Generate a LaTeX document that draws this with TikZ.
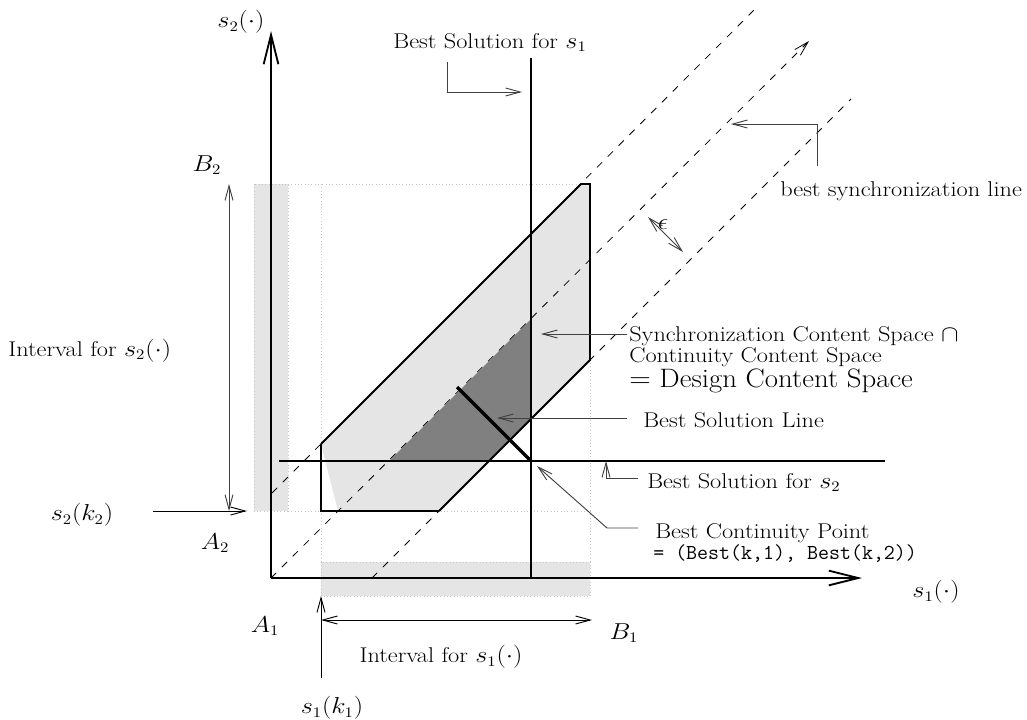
\documentclass[tikz,border=0pt]{standalone}
\usetikzlibrary{arrows.meta}
\begin{document}
\begin{tikzpicture}[x=0.75pt,y=-0.75pt,
  every node/.style={inner sep=0pt, font=\fontsize{16}{17}\selectfont, xscale=1.14, transform shape},
  bigtext/.style={font=\fontsize{20}{22}\selectfont, xscale=1.08/1.14},
  tttext/.style={font=\fontsize{16}{17}\ttfamily, xscale=1/1.14},
  ann/.style={draw=black!75, line width=0.7pt},
  annarr/.style={ann, -{Straight Barb[length=11pt,width=6pt]}},
  annboth/.style={ann, {Straight Barb[length=11pt,width=6pt]}-{Straight Barb[length=11pt,width=6pt]}},
  axisline/.style={line width=1.4pt, -{Straight Barb[length=22pt,width=11pt]}},
  syncline/.style={line width=0.6pt, dash pattern=on 5.5pt off 6pt},
  band/.style={fill=gray!20, draw=gray!45, dotted, line width=0.5pt},
  guide/.style={draw=gray!45, dotted, line width=0.5pt},
  frameline/.style={line width=1.4pt},
]
\useasboundingbox (0,0) rectangle (1027,719);

% ---- coordinates ----
\coordinate (O) at (271,578);
\coordinate (Ytip) at (271,31);
\coordinate (Xtip) at (862,578);
% light polygon
\coordinate (P1) at (321,444);
\coordinate (P2) at (581,184);
\coordinate (P3) at (590,184);
\coordinate (P4) at (590,360);
\coordinate (P5) at (439,511);
\coordinate (P6) at (321,511);
\coordinate (P7) at (338,511);
% dark polygon
\coordinate (D1) at (389,461);
\coordinate (D2) at (531,319);
\coordinate (D3) at (531,419);
\coordinate (D4) at (489,461);
% dashed sync lines
\coordinate (L1a) at (272,493);
\coordinate (L1b) at (757,7);
\coordinate (L2b) at (809,41);
\coordinate (L3a) at (372,578);
\coordinate (L3b) at (851,99);
% best lines
\coordinate (V1) at (531,58);
\coordinate (V2) at (531,578);
\coordinate (H1) at (279,461);
\coordinate (H2) at (885,461);
\coordinate (BCP) at (531,461);
\coordinate (BSLa) at (457,387);

% ---- bands and guides ----
\path[band] (254,184) rectangle (288,511);
\path[band] (321,562) rectangle (590,596);
\draw[guide] (321,184) rectangle (590,511);
\draw[guide] (288,184) -- (321,184);
\draw[guide] (288,511) -- (321,511);
\draw[guide] (321,511) -- (321,562);
\draw[guide] (590,511) -- (590,562);

% ---- light region ----
\fill[gray!20] (P1) -- (P2) -- (P3) -- (P4) -- (P5) -- (P7) -- cycle;

% ---- sync lines ----
\draw[syncline] (L1a) -- (L1b);
\draw[syncline, -{Straight Barb[length=11pt,width=6pt]}] (O) -- (L2b);
\draw[syncline] (L3a) -- (L3b);

% ---- dark region ----
\fill[gray] (D1) -- (D2) -- (D3) -- (D4) -- cycle;

% ---- outlines ----
\draw[frameline] (P1) -- (P6) -- (P5);
\draw[frameline] (P1) -- (P2) -- (P3) -- (P4) -- (P5);
\draw[frameline] (V1) -- (V2);
\draw[frameline] (H1) -- (H2);
\draw[line width=2.6pt] (BSLa) -- (BCP);

% ---- axes ----
\draw[axisline] (O) -- (Ytip);
\draw[axisline] (O) -- (Xtip);

% ---- labels ----
\node (ys) at (241,22) {$s_2(\cdot)$};
\node (xs) at (936,592) {$s_1(\cdot)$};
\node[anchor=base] (bs1) at (490,48) {Best Solution for $s_1$};
\node[anchor=base west] (bsync) at (780,196) {best synchronization line};
\node (eps) at (663,225) {$\epsilon$};
\node[anchor=base west] (t1) at (629,341) {Synchronization Content Space $\cap$};
\node[anchor=base west] (t2) at (629,362) {Continuity Content Space};
\node[anchor=base west, bigtext] (t3) at (629,387) {$=$ Design Content Space};
\node[anchor=base west] (bsl) at (643,427) {Best Solution Line};
\node[anchor=base west] (bs2) at (647,488) {Best Solution for $s_2$};
\node[anchor=base west] (bcp) at (655,538) {Best Continuity Point};
\node[anchor=base west, tttext] (bcp2) at (653,559) {= (Best(k,1), Best(k,2))};
\node (B2) at (207,165) {$B_2$};
\node (A2) at (215,543) {$A_2$};
\node[anchor=base west] (int2) at (8,356) {Interval for $s_2(\cdot)$};
\node (s2k) at (82,515) {$s_2(k_2)$};
\node (A1) at (265,626) {$A_1$};
\node (B1) at (624,633) {$B_1$};
\node (int1) at (441,657) {Interval for $s_1(\cdot)$};
\node (s1k) at (332,708) {$s_1(k_1)$};

% ---- annotation arrows ----
\coordinate (a1s) at (447,62);
\coordinate (a1m) at (447,92);
\coordinate (a1e) at (522,92);
\draw[annarr] (a1s) -- (a1m) -- (a1e);

\coordinate (a2s) at (817,166);
\coordinate (a2m) at (817,124);
\coordinate (a2e) at (731,124);
\draw[annarr] (a2s) -- (a2m) -- (a2e);

\coordinate (e1) at (648,217);
\coordinate (e2) at (683,252);
\draw[annboth] (e1) -- (e2);

\coordinate (a3s) at (627,334);
\coordinate (a3e) at (541,334);
\draw[annarr] (a3s) -- (a3e);

\coordinate (a4s) at (627,418);
\coordinate (a4e) at (497,418);
\draw[annarr] (a4s) -- (a4e);

\coordinate (a5s) at (638,478);
\coordinate (a5m) at (606,478);
\coordinate (a5e) at (606,461);
\draw[annarr] (a5s) -- (a5m) -- (a5e);

\coordinate (a6s) at (638,528);
\coordinate (a6m) at (607,528);
\coordinate (a6e) at (537,466);
\draw[annarr] (a6s) -- (a6m) -- (a6e);

\coordinate (i2a) at (229,184);
\coordinate (i2b) at (229,511);
\draw[annboth] (i2a) -- (i2b);

\coordinate (k2s) at (153,511);
\coordinate (k2e) at (247,511);
\draw[annarr, draw=black] (k2s) -- (k2e);

\coordinate (i1a) at (321,620);
\coordinate (i1b) at (592,620);
\draw[annboth, draw=black] (i1a) -- (i1b);

\coordinate (k1s) at (321,678);
\coordinate (k1e) at (321,596);
\draw[annarr, draw=black] (k1s) -- (k1e);
\end{tikzpicture}
\end{document}
